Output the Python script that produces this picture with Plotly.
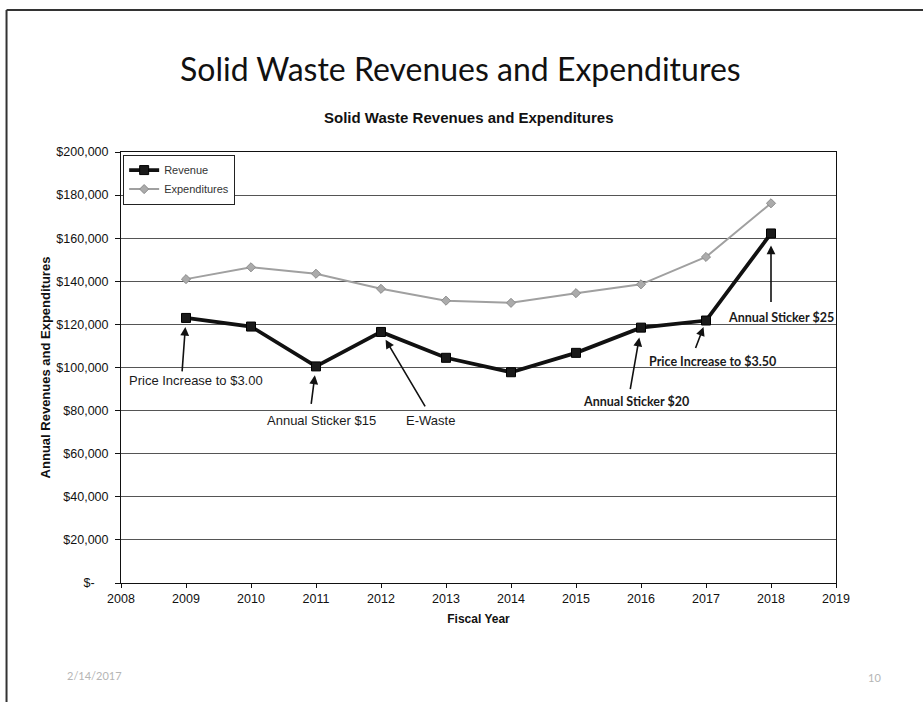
import plotly.graph_objects as go

# Fiscal years and annual totals (USD)
years = [2009, 2010, 2011, 2012, 2013, 2014, 2015, 2016, 2017, 2018]
revenue = [123000, 119000, 100500, 116500, 104500, 97800, 106800, 118500, 121800, 162200]
expenditures = [141000, 146500, 143500, 136500, 131000, 130000, 134500, 138600, 151300, 176200]

y_ticks = [0, 20000, 40000, 60000, 80000, 100000, 120000, 140000, 160000, 180000, 200000]
y_tick_text = ["$-\u00a0\u00a0\u00a0\u00a0"] + ["${:,}".format(v) for v in y_ticks[1:]]
x_ticks = list(range(2008, 2020))

# Event notes: (year index of the revenue point, label, label x, label y, arrow tail dx, dy, standoff, font)
arial = "Liberation Sans, Arial, sans-serif"
calibri = "Lato, Carlito, Calibri, sans-serif"
events = [
    (0, "Price Increase to $3.00", 2009.16, 94200, -4, 55, 9, arial),
    (2, "Annual Sticker $15", 2011.08, 75600, -5, 39, 9, arial),
    (3, "E-Waste", 2012.76, 75600, 45, 76, 9, arial),
    (7, "<b>Annual Sticker $20</b>", 2015.92, 84000, -11, 63, 10, calibri),
    (8, "<b>Price Increase to $3.50</b>", 2017.10, 103000, -11, 29, 7, calibri),
    (9, "<b>Annual Sticker $25</b>", 2018.15, 123400, 0, 70, 12, calibri),
]

fig = go.Figure()
fig.add_trace(go.Scatter(
    x=years, y=revenue, name="Revenue", mode="lines+markers",
    line=dict(color="#111111", width=3.8),
    marker=dict(symbol="square", size=9, color="#1a1a1a", line=dict(color="#000", width=1)),
))
fig.add_trace(go.Scatter(
    x=years, y=expenditures, name="Expenditures", mode="lines+markers",
    line=dict(color="#a0a0a0", width=2),
    marker=dict(symbol="diamond", size=7, color="#ababab", line=dict(color="#8c8c8c", width=1)),
))

annotations = []
for idx, label, tx, ty, dx, dy, stand, fam in events:
    annotations.append(dict(
        x=years[idx], y=revenue[idx], xref="x", yref="y", text="",
        showarrow=True, ax=dx, ay=dy, arrowhead=2, arrowsize=1.1, arrowwidth=1.6,
        arrowcolor="#111", standoff=stand,
    ))
    annotations.append(dict(
        x=tx, y=ty, xref="x", yref="y", text=label, showarrow=False,
        xanchor="center", yanchor="middle",
        font=dict(family=fam, size=12.5 if fam == calibri else 13, color="#1a1a1a"),
    ))

annotations += [
    dict(text="Solid Waste Revenues and Expenditures", xref="paper", yref="paper",
         x=0.4748, y=1.1926, showarrow=False, xanchor="center", yanchor="middle",
         font=dict(family="Lato, Calibri, sans-serif", size=32, color="#111")),
    dict(text="<b>Solid Waste Revenues and Expenditures</b>", xref="paper", yref="paper",
         x=0.487, y=1.081, showarrow=False, xanchor="center", yanchor="middle",
         font=dict(family=arial, size=15, color="#111")),
    dict(text="2/14/2017", xref="paper", yref="paper", x=-0.037, y=-0.2135,
         showarrow=False, xanchor="center", yanchor="middle",
         font=dict(family=calibri, size=11, color="#b5b5b5")),
    dict(text="10", xref="paper", yref="paper", x=1.0538, y=-0.2204,
         showarrow=False, xanchor="center", yanchor="middle",
         font=dict(family=calibri, size=11, color="#b5b5b5")),
]

shapes = [
    dict(type="line", xref="paper", yref="paper", x0=-0.1601, x1=1.125, y0=1.3295, y1=1.3295,
         line=dict(color="#333", width=2)),
    dict(type="line", xref="paper", yref="paper", x0=-0.1601, x1=-0.1601, y0=1.3295, y1=-0.28,
         line=dict(color="#333", width=2)),
]

fig.update_layout(
    width=923, height=702,
    margin=dict(l=121, r=87, t=152, b=119),
    paper_bgcolor="white", plot_bgcolor="white",
    font=dict(family=arial, size=11, color="#111"),
    showlegend=True,
    legend=dict(x=0.003, y=0.994, xanchor="left", yanchor="top",
                bgcolor="white", bordercolor="#222", borderwidth=1,
                font=dict(family=arial, size=11, color="#333"),
                tracegroupgap=0, itemwidth=30),
    annotations=annotations,
    shapes=shapes,
)
fig.update_xaxes(
    range=[2008, 2019], tickvals=x_ticks, ticks="outside", ticklen=4, tickcolor="#111",
    showgrid=False, showline=True, linecolor="#111", linewidth=1, mirror=True,
    tickfont=dict(family=arial, size=12.5, color="#111"),
    title=dict(text="<b>Fiscal Year</b>", standoff=9, font=dict(family=arial, size=12, color="#111")),
    zeroline=False,
)
fig.update_yaxes(
    range=[0, 200000], tickvals=y_ticks, ticktext=y_tick_text, ticks="outside", ticklen=5,
    ticklabelstandoff=4,
    tickcolor="#111", showgrid=True, gridcolor="#555555", gridwidth=1.3,
    showline=True, linecolor="#111", linewidth=1, mirror=True,
    tickfont=dict(family=arial, size=12.5, color="#111"),
    title=dict(text="<b>Annual Revenues and Expenditures</b>", standoff=2,
               font=dict(family=arial, size=13, color="#111")),
    zeroline=False,
)

fig.write_html("out.html")
